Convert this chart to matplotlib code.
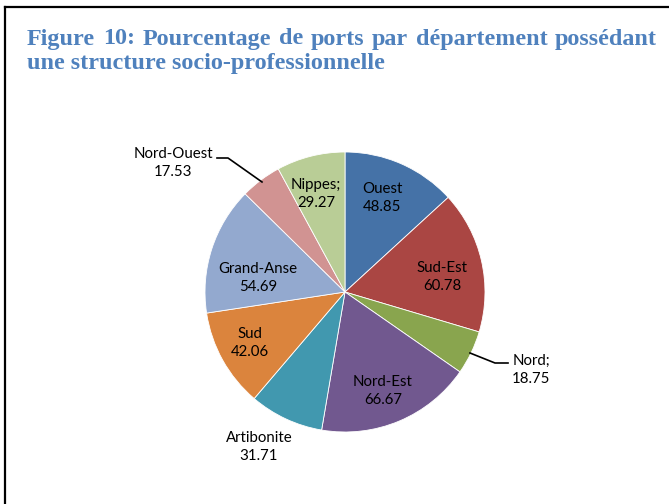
import matplotlib
matplotlib.use("Agg")
import matplotlib.pyplot as plt
from matplotlib.lines import Line2D

# données
departements = ["Ouest", "Sud-Est", "Nord", "Nord-Est", "Artibonite",
                "Sud", "Grand-Anse", "Nord-Ouest", "Nippes"]
valeurs = [48.85, 60.78, 18.75, 66.67, 31.71, 42.06, 54.69, 17.53, 29.27]
separateurs = ["\n", "\n", ";\n", "\n", "\n", "\n", "\n", "\n", ";\n"]
couleurs = ["#4572A7", "#AA4643", "#89A54E", "#71588F", "#4198AF",
            "#DB843D", "#93A9CF", "#D19392", "#B9CD96"]

TITLE_BLUE = "#4F81BD"
W, H = 669, 504
CX, CY, R = 345, 292, 140

fig = plt.figure(figsize=(W / 100, H / 100), dpi=100)

# cadre (haut + gauche)
fig.add_artist(Line2D([5 / W, 1], [1 - 7 / H, 1 - 7 / H], color="black", lw=1.6))
fig.add_artist(Line2D([5 / W, 5 / W], [0, 1 - 7 / H], color="black", lw=1.6))

# titre justifié
lines = ["Figure 10: Pourcentage de ports par département possédant",
         "une structure socio-professionnelle"]
tkw = dict(fontsize=17.4, fontweight="bold", family="Liberation Serif",
           color=TITLE_BLUE, va="center", ha="left")
renderer = fig.canvas.get_renderer()
x0, x1 = 27, 657
for i, (line, ypx) in enumerate(zip(lines, [39, 63])):
    if i == 0:
        words = line.split(" ")
        arts = [fig.text(0, 1 - ypx / H, w, **tkw) for w in words]
        widths = [a.get_window_extent(renderer).width for a in arts]
        gap = (x1 - x0 - sum(widths)) / (len(words) - 1)
        x = x0
        for a, wd in zip(arts, widths):
            a.set_x(x / W)
            x += wd + gap
    else:
        fig.text(x0 / W, 1 - ypx / H, line, **tkw)

# camembert
ax = fig.add_axes([(CX - R) / W, (H - CY - R) / H, 2 * R / W, 2 * R / H])
ax.pie(valeurs, colors=couleurs, startangle=90, counterclock=False, radius=1,
       wedgeprops=dict(edgecolor="white", linewidth=0.6))
ax.set_xlim(-1, 1)
ax.set_ylim(-1, 1)
ax.axis("off")

# positions des étiquettes (pixels)
pos_px = [(382, 198), (442, 277), (512, 370), (383, 391), (259, 447),
          (250, 343), (258, 278), (173, 163), (316, 194)]
align = ["center", "center", "left", "center", "center",
         "center", "center", "center", "center"]
for nom, val, sep, (px, py), ha in zip(departements, valeurs, separateurs, pos_px, align):
    ax.text((px - CX) / R, (CY - py) / R, f"{nom}{sep}{val:.2f}",
            ha=ha, va="center", ma="center", fontsize=10.8, family="Lato",
            color="black", linespacing=1.4, clip_on=False)

# lignes de rappel
def leader(pts):
    xs = [(p[0] - CX) / R for p in pts]
    ys = [(CY - p[1]) / R for p in pts]
    ax.plot(xs, ys, color="black", lw=1.2, clip_on=False)

leader([(217, 158), (228, 158), (262, 182)])
leader([(470, 353), (495, 363), (508, 363)])

fig.savefig("out.png", dpi=100)
